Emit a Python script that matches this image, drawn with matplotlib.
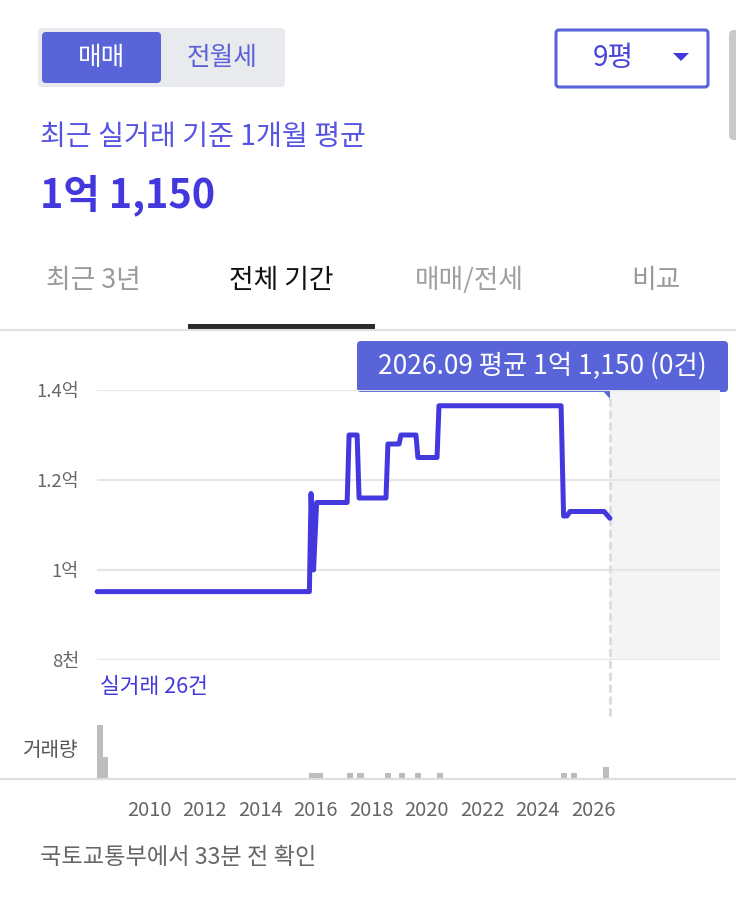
'''
Apartment real-trade price chart (9평, 전체 기간).
'''

import matplotlib.pyplot as plt
from matplotlib.patches import FancyBboxPatch, Rectangle, Polygon

plt.rcParams['font.family'] = ['Noto Sans CJK KR', 'DejaVu Sans']

# monthly average trade price (억원), step vertices
trade_years = [2008.13, 2015.78, 2015.84, 2015.93, 2016.04, 2017.14, 2017.21, 2017.50,
               2017.57, 2018.54, 2018.61, 2019.01, 2019.08, 2019.62, 2019.69, 2020.38,
               2020.45, 2024.85, 2024.94, 2025.06, 2025.17, 2026.40, 2026.61]
trade_prices = [0.952, 0.952, 1.17, 1.00, 1.15, 1.15, 1.30, 1.30,
                1.16, 1.16, 1.28, 1.28, 1.30, 1.30, 1.25, 1.25,
                1.365, 1.365, 1.12, 1.12, 1.13, 1.13, 1.115]

# trade volume (건)
vol_years = [2008.23, 2008.40, 2015.89, 2016.14, 2017.24, 2017.62, 2018.61,
             2019.12, 2019.69, 2020.49, 2024.95, 2025.32, 2026.47]
vol_counts = [10, 4, 1, 1, 1, 1, 1, 1, 1, 1, 1, 1, 2]

y_ticks = [0.8, 1.0, 1.2, 1.4]
y_labels = ['8천', '1억', '1.2억', '1.4억']
x_ticks = [2010, 2012, 2014, 2016, 2018, 2020, 2022, 2024, 2026]
cursor_year = 2026.61

tabs = ['최근 3년', '전체 기간', '매매/전세', '비교']

W, H = 736, 902
BLUE = '#4338dd'
BTN = '#5864d8'


def fig_box(left, top, right, bottom):
    # pixel box -> figure fraction
    return [left / W, 1 - bottom / H, (right - left) / W, (bottom - top) / H]


def main():
    fig = plt.figure(figsize=(W / 100, H / 100), dpi=100)

    # overlay in pixel coords for UI pieces
    ui = fig.add_axes([0, 0, 1, 1], zorder=-1)
    ui.set_xlim(0, W)
    ui.set_ylim(H, 0)
    ui.axis('off')

    # year <-> pixel: 2010 at x=149, 27.75 px per year
    x_left = 2010 + (97 - 149) / 27.75
    x_right = 2010 + (720 - 149) / 27.75

    # price chart
    ax = fig.add_axes(fig_box(97, 390, 720, 660))
    ax.set_facecolor('none')
    ax.set_xlim(x_left, x_right)
    ax.set_ylim(0.8, 1.4)
    for s in ax.spines.values():
        s.set_visible(False)
    ax.set_xticks([])
    ax.set_yticks(y_ticks)
    ax.set_yticklabels(y_labels)
    ax.tick_params(axis='y', length=0, pad=13, labelsize=13.3, labelcolor='#666666')
    ax.yaxis.grid(True, color='#e6e6e6', lw=1.6)
    ax.set_axisbelow(True)

    ax.axvspan(cursor_year, x_right, color='#f4f4f4', zorder=0, lw=0)
    ax.plot(trade_years, trade_prices, color=BLUE, lw=3.6, solid_joinstyle='round',
            solid_capstyle='round', clip_on=False, zorder=3)
    ax.axvline(cursor_year, ymin=(660 - 716) / 270, ymax=(660 - 395) / 270,
               color='#dddddd', lw=2.2, dashes=(2.6, 1.3), clip_on=False, zorder=2)

    ax.text(x_left + 0.1, 0.8 - 27 / 450, '실거래 26건', color=BLUE, fontsize=15.5,
            ha='left', va='center')

    # volume bars
    axv = fig.add_axes(fig_box(97, 720, 720, 778))
    axv.set_facecolor('none')
    axv.bar(vol_years, vol_counts, width=0.24, color='#bdbdbd', lw=0)
    axv.set_xlim(x_left, x_right)
    axv.set_ylim(0, 11)
    for s in axv.spines.values():
        s.set_visible(False)
    axv.set_yticks([])
    axv.set_xticks(x_ticks)
    axv.set_xticklabels([str(y) for y in x_ticks])
    axv.tick_params(axis='x', length=0, pad=15.5, labelsize=14.5, labelcolor='#666666')

    ui.plot([0, W], [779, 779], color='#dedede', lw=1.6)
    ui.text(51, 750, '거래량', color='#555555', fontsize=14.5, ha='center', va='center')

    # tooltip
    ui.add_patch(FancyBboxPatch((357, 341), 371, 51, boxstyle='round,pad=0,rounding_size=4',
                                fc=BTN, ec='none'))
    ui.add_patch(Polygon([(603, 391), (619, 391), (611, 400)], fc=BTN, ec='none'))
    ui.text(542, 366, '2026.09 평균 1억 1,150 (0건)', color='white', fontsize=19,
            ha='center', va='center')

    # segmented control
    ui.add_patch(FancyBboxPatch((38, 28), 247, 59, boxstyle='round,pad=0,rounding_size=4',
                                fc='#e9eaed', ec='none'))
    ui.add_patch(FancyBboxPatch((42, 32), 119, 51, boxstyle='round,pad=0,rounding_size=4',
                                fc=BTN, ec='none'))
    ui.text(101, 58, '매매', color='white', fontsize=18.5, ha='center', va='center')
    ui.text(222, 58, '전월세', color='#5a62d6', fontsize=18.5, ha='center', va='center')

    # dropdown
    ui.add_patch(FancyBboxPatch((556, 30), 152, 57, boxstyle='round,pad=0,rounding_size=3',
                                fc='white', ec=BTN, lw=2.2))
    ui.text(613, 58, '9평', color='#4a45d9', fontsize=20, ha='center', va='center')
    ui.add_patch(Polygon([(673, 53), (689, 53), (681, 61)], fc=BLUE, ec='none'))

    # scrollbar
    ui.add_patch(FancyBboxPatch((729, 30), 14, 110, boxstyle='round,pad=0,rounding_size=5',
                                fc='#c8c8cd', ec='none'))

    # headline
    ui.text(40, 137, '최근 실거래 기준 1개월 평균', color='#5654e0', fontsize=20.3,
            ha='left', va='center')
    ui.text(40, 195, '1억 1,150', color=BLUE, fontsize=28.5, fontweight='bold',
            ha='left', va='center')

    # tabs
    tab_x = [93, 281, 469, 656]
    tab_colors = ['#9a9a9a', '#111111', '#a0a0a0', '#9a9a9a']
    for label, x, c in zip(tabs, tab_x, tab_colors):
        ui.text(x, 280, label, color=c, fontsize=19.3, ha='center', va='center')
    ui.plot([0, W], [329.5, 329.5], color='#e0e0e0', lw=1.5)
    ui.add_patch(Rectangle((188, 324), 187, 4.5, fc='#2b2b2b', ec='none'))

    # footer
    ui.text(40, 857, '국토교통부에서 33분 전 확인', color='#666666', fontsize=16.7,
            ha='left', va='center')

    fig.savefig('out.png', dpi=100)


if __name__ == '__main__':
    main()
